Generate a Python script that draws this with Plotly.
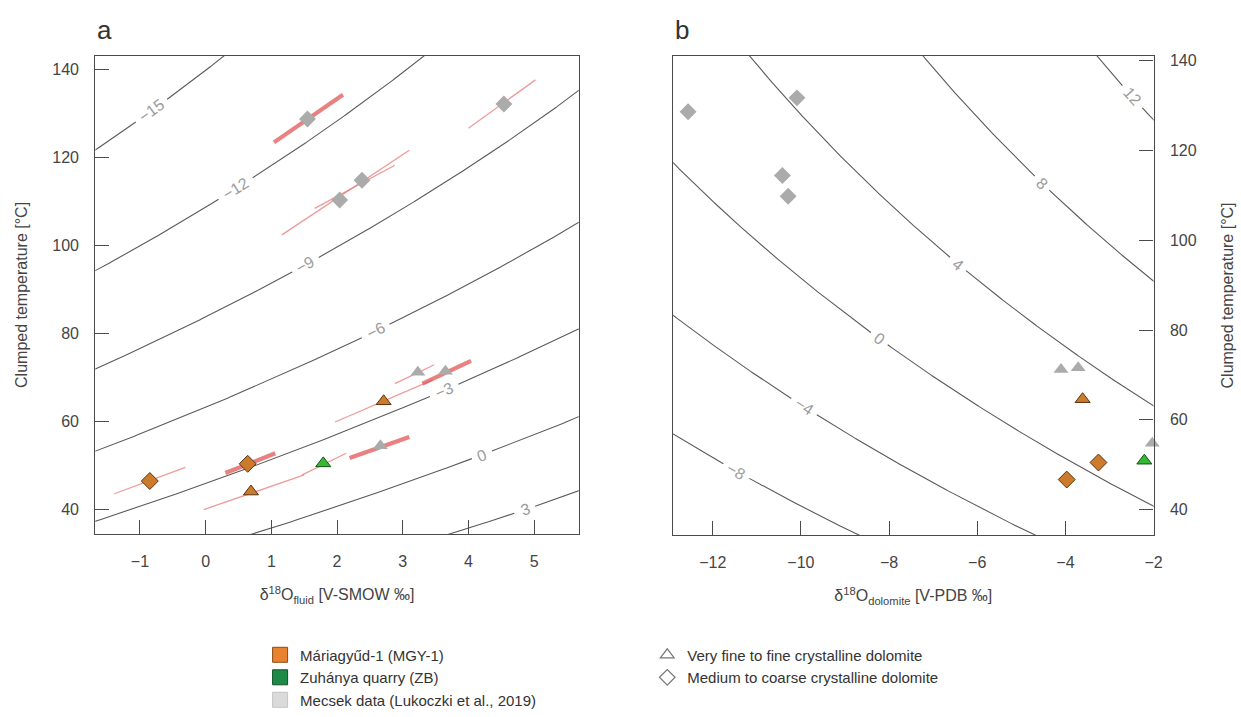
import numpy as np
import plotly.graph_objects as go

W, H = 1241, 717
FONT = "Liberation Sans, Arial, sans-serif"

# ---------------- data ----------------
# Panel a: delta18O fluid [V-SMOW] vs clumped temperature [°C]
a_mecsek_dia_x = [1.55, 4.54, 2.04, 2.38]
a_mecsek_dia_T = [128.7, 132.1, 110.3, 114.8]
a_mecsek_tri_x = [3.23, 3.65, 2.66]
a_mecsek_tri_T = [71.2, 71.4, 54.5]
a_mgy_tri_x = [2.71, 0.69]
a_mgy_tri_T = [64.6, 44.1]
a_mgy_dia_x = [-0.85, 0.64]
a_mgy_dia_T = [46.5, 50.4]
a_zb_tri_x = [1.79]
a_zb_tri_T = [50.5]

# uncertainty segments in panel a (fluid low/high, T low/high)
thick_x_lo = [1.04, 0.30, 2.19, 3.30]
thick_x_hi = [2.09, 1.06, 3.10, 4.04]
thick_T_lo = [123.4, 48.3, 51.7, 68.6]
thick_T_hi = [134.2, 52.8, 56.5, 73.8]
thin_x_lo = [4.00, 1.16, 1.66, -1.39, -0.03, 1.47, 1.97, 2.88]
thin_x_hi = [5.02, 3.10, 2.88, -0.31, 1.50, 2.14, 3.45, 3.48]
thin_T_lo = [126.6, 102.4, 108.4, 43.6, 40.0, 47.9, 59.9, 68.6]
thin_T_hi = [137.6, 121.6, 118.2, 49.6, 47.9, 52.8, 69.4, 72.9]

# Panel b: delta18O dolomite [V-PDB] vs clumped temperature [°C]
b_mecsek_dia_x = [-12.56, -10.09, -10.42, -10.29]
b_mecsek_dia_T = [128.6, 131.7, 114.4, 109.8]
b_mecsek_tri_x = [-4.10, -3.71, -2.03]
b_mecsek_tri_T = [71.2, 71.6, 54.8]
b_mgy_tri_x = [-3.61, -1.98]
b_mgy_tri_T = [64.6, 43.6]
b_mgy_dia_x = [-3.97, -3.25]
b_mgy_dia_T = [46.7, 50.5]
b_zb_tri_x = [-2.21]
b_zb_tri_T = [50.9]

# isoline levels and the temperature at which each level is labelled
a_levels = [-15, -12, -9, -6, -3, 0, 3]          # delta18O dolomite [V-PDB]
a_label_T = [130.6, 112.9, 95.6, 80.6, 67.1, 52.4, 40.0]
b_levels = [-8, -4, 0, 4, 8, 12]                 # delta18O fluid [V-SMOW]
b_label_T = [48.6, 62.9, 78.1, 94.7, 112.7, 131.9]

a_x_ticks = [-1, 0, 1, 2, 3, 4, 5]
b_x_ticks = [-12, -10, -8, -6, -4, -2]
y_ticks = [40, 60, 80, 100, 120, 140]

# axis ranges and pixel domains
A_XR, A_YR = [-1.68, 5.68], [34.4, 143.1]
B_XR, B_YR = [-12.9, -2.0], [34.3, 141.1]
A_PX, A_PY = (96, 583), (53, 535)
B_PX, B_PY = (678, 1162), (53, 536)

# ---------------- dolomite-water fractionation used for the isolines ----------------
def thousand_ln_alpha(Tc):
    TK = np.asarray(Tc) + 273.15
    return 3.06e6 / TK**2 - 2.62

def fluid_from_dol(d_pdb, Tc):
    smow = 1.03091 * d_pdb + 30.91
    return (1000 + smow) / np.exp(thousand_ln_alpha(Tc) / 1000) - 1000

def dol_from_fluid(f_smow, Tc):
    return ((1000 + f_smow) * np.exp(thousand_ln_alpha(Tc) / 1000) - 1000 - 30.91) / 1.03091

C_ORANGE = "#CC7A2C"
C_ORANGE_EDGE = "#5a3310"
C_GREEN = "#35B835"
C_GREEN_EDGE = "#145214"
C_GRAY = "#ABABAB"
LINE_C = "#5a5a5a"
LABEL_C = "#9c9c9c"

fig = go.Figure()
annotations = []

def isolines(levels, label_T, func, xr, yr, px, py, xa, ya):
    kx = (px[1] - px[0]) / (xr[1] - xr[0])
    ky = (py[1] - py[0]) / (yr[1] - yr[0])
    Ts = np.linspace(yr[0] - 5, yr[1] + 5, 900)
    for lev, tl in zip(levels, label_T):
        xs = func(lev, Ts)
        xl = float(func(lev, tl))
        txt = ("−" if lev < 0 else "") + str(abs(lev))
        r = 0.30 * 16 * len(txt) + 5
        dist = np.hypot((xs - xl) * kx, (Ts - tl) * ky)
        xv = [None if dd < r else float(v) for v, dd in zip(xs, dist)]
        fig.add_trace(go.Scatter(x=xv, y=Ts.tolist(), mode="lines", xaxis=xa, yaxis=ya,
                                 line=dict(color=LINE_C, width=1.1),
                                 showlegend=False, hoverinfo="skip"))
        dT = 0.5
        dx = float(func(lev, tl + dT) - func(lev, tl - dT))
        ang = -np.degrees(np.arctan2(2 * dT * ky, dx * kx))
        if ang < -90:
            ang += 180
        elif ang > 90:
            ang -= 180
        annotations.append(dict(x=xl, y=tl, xref=xa, yref=ya, text=txt, showarrow=False,
                                textangle=float(ang), xanchor="center", yanchor="middle",
                                font=dict(size=16, color=LABEL_C, family=FONT)))

isolines(a_levels, a_label_T, fluid_from_dol, A_XR, A_YR, A_PX, A_PY, "x", "y")
isolines(b_levels, b_label_T, dol_from_fluid, B_XR, B_YR, B_PX, B_PY, "x2", "y2")

def segs(xlo, xhi, tlo, thi):
    xs, ys = [], []
    for a, b, c, d in zip(xlo, xhi, tlo, thi):
        xs += [a, b, None]
        ys += [c, d, None]
    return xs, ys

sx, sy = segs(thin_x_lo, thin_x_hi, thin_T_lo, thin_T_hi)
fig.add_trace(go.Scatter(x=sx, y=sy, mode="lines", xaxis="x", yaxis="y",
                         line=dict(color="rgba(232,120,120,0.75)", width=1.3),
                         showlegend=False, hoverinfo="skip"))
sx, sy = segs(thick_x_lo, thick_x_hi, thick_T_lo, thick_T_hi)
fig.add_trace(go.Scatter(x=sx, y=sy, mode="lines", xaxis="x", yaxis="y",
                         line=dict(color="rgba(225,80,80,0.72)", width=4.2),
                         showlegend=False, hoverinfo="skip"))

def pts(x, y, sym, fill, edge, ew, ax):
    xa_, ya_ = ("x", "y") if ax == "a" else ("x2", "y2")
    return go.Scatter(x=x, y=y, mode="markers", xaxis=xa_, yaxis=ya_,
                      marker=dict(symbol=sym, size=13, color=fill,
                                  line=dict(color=edge, width=ew)),
                      cliponaxis=False, showlegend=False, hoverinfo="skip")

for ax, d in (("a", (a_mecsek_dia_x, a_mecsek_dia_T, a_mecsek_tri_x, a_mecsek_tri_T,
                     a_mgy_tri_x, a_mgy_tri_T, a_mgy_dia_x, a_mgy_dia_T, a_zb_tri_x, a_zb_tri_T)),
              ("b", (b_mecsek_dia_x, b_mecsek_dia_T, b_mecsek_tri_x, b_mecsek_tri_T,
                     b_mgy_tri_x, b_mgy_tri_T, b_mgy_dia_x, b_mgy_dia_T, b_zb_tri_x, b_zb_tri_T))):
    fig.add_trace(pts(d[0], d[1], "diamond", C_GRAY, C_GRAY, 0, ax))
    fig.add_trace(pts(d[2], d[3], "triangle-up", C_GRAY, C_GRAY, 0, ax))
    fig.add_trace(pts(d[4], d[5], "triangle-up", C_ORANGE, C_ORANGE_EDGE, 1, ax))
    fig.add_trace(pts(d[6], d[7], "diamond", C_ORANGE, C_ORANGE_EDGE, 1, ax))
    fig.add_trace(pts(d[8], d[9], "triangle-up", C_GREEN, C_GREEN_EDGE, 1, ax))

# legend entries
leg1 = [("Máriagyűd-1 (MGY-1)", "#E8822E", "#8a4a15"),
        ("Zuhánya quarry (ZB)", "#1E8A48", "#10502a"),
        ("Mecsek data (Lukoczki et al., 2019)", "#DADADA", "#c4c4c4")]
for name, c, e in leg1:
    fig.add_trace(go.Scatter(x=[None], y=[None], mode="markers", name=name,
                             marker=dict(symbol="square", size=15, color=c, line=dict(color=e, width=1)),
                             legend="legend", showlegend=True))
leg2 = [("Very fine to fine crystalline dolomite", "triangle-up-open"),
        ("Medium to coarse crystalline dolomite", "diamond-open")]
for name, s in leg2:
    fig.add_trace(go.Scatter(x=[None], y=[None], mode="markers", name=name,
                             marker=dict(symbol=s, size=12, color="#777", line=dict(width=1.2)),
                             legend="legend2", showlegend=True))

axcommon = dict(showline=True, mirror=True, linecolor="#4a4a4a", linewidth=1.3,
                ticks="inside", ticklen=14, tickwidth=1.3, tickcolor="#4a4a4a",
                showgrid=False, zeroline=False,
                tickfont=dict(size=16, color="#444", family=FONT),
                ticklabelstandoff=12)

annotations += [
    dict(text="a", x=96 / W, y=1 - 27 / H, xref="paper", yref="paper",
         xanchor="left", yanchor="middle", showarrow=False,
         font=dict(size=26, color="#333", family=FONT)),
    dict(text="b", x=678 / W, y=1 - 27 / H, xref="paper", yref="paper",
         xanchor="left", yanchor="middle", showarrow=False,
         font=dict(size=26, color="#333", family=FONT)),
]

fig.update_layout(
    width=W, height=H, margin=dict(l=0, r=0, t=0, b=0),
    paper_bgcolor="white", plot_bgcolor="white",
    font=dict(family=FONT, color="#333"),
    xaxis=dict(domain=[A_PX[0] / W, A_PX[1] / W], range=A_XR, anchor="y",
               tickvals=a_x_ticks,
               title=dict(text="δ<sup>18</sup>O<sub>fluid</sub> [V-SMOW ‰]",
                          font=dict(size=16, color="#444"), standoff=20), **axcommon),
    yaxis=dict(domain=[1 - A_PY[1] / H, 1 - A_PY[0] / H], range=A_YR, anchor="x",
               tickvals=y_ticks,
               title=dict(text="Clumped temperature [°C]",
                          font=dict(size=16, color="#444"), standoff=20), **axcommon),
    xaxis2=dict(domain=[B_PX[0] / W, B_PX[1] / W], range=B_XR, anchor="y2",
                tickvals=b_x_ticks,
                title=dict(text="δ<sup>18</sup>O<sub>dolomite</sub> [V-PDB ‰]",
                           font=dict(size=16, color="#444"), standoff=20), **axcommon),
    yaxis2=dict(domain=[1 - B_PY[1] / H, 1 - B_PY[0] / H], range=B_YR, anchor="x2",
                side="right", tickvals=y_ticks,
                title=dict(text="Clumped temperature [°C]",
                           font=dict(size=16, color="#444"), standoff=26), **axcommon),
    legend=dict(x=262 / W, y=1 - 640 / H, xanchor="left", yanchor="top",
                font=dict(size=15, color="#333", family=FONT), bgcolor="rgba(0,0,0,0)",
                itemwidth=30, tracegroupgap=0),
    legend2=dict(x=652 / W, y=1 - 640 / H, xanchor="left", yanchor="top",
                 font=dict(size=15, color="#333", family=FONT), bgcolor="rgba(0,0,0,0)",
                 itemwidth=30, tracegroupgap=0),
    annotations=annotations,
)

fig.write_html("out.html")
